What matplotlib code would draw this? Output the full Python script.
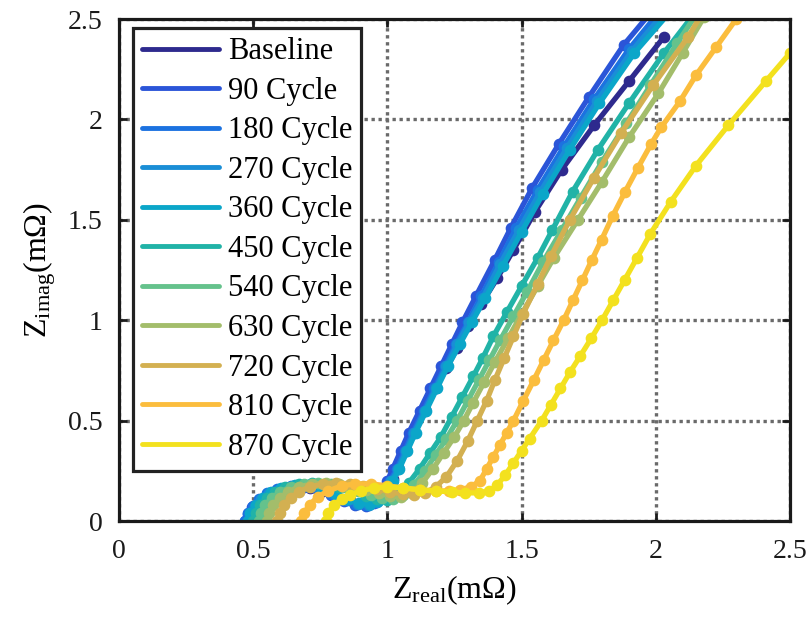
import matplotlib
matplotlib.use("Agg")
import matplotlib.pyplot as plt

plt.rcParams['font.family'] = ['Liberation Serif', 'DejaVu Serif']
plt.rcParams['mathtext.fontset'] = 'custom'
plt.rcParams['mathtext.rm'] = 'Liberation Serif'
plt.rcParams['mathtext.it'] = 'Liberation Serif:italic'

labels = ['Baseline', '90 Cycle', '180 Cycle', '270 Cycle', '360 Cycle', '450 Cycle',
          '540 Cycle', '630 Cycle', '720 Cycle', '810 Cycle', '870 Cycle']
colors = ['#2e2a8e', '#2b55d8', '#1c72e0', '#1a8ed6', '#0ba6c9', '#21b3a7',
          '#65c28c', '#a3bd6b', '#d3b051', '#fbbd3d', '#f3e11e']

x_bl = [0.49,0.50,0.515,0.54,0.57,0.61,0.66,0.71,0.76,0.81,0.86,0.90,0.94,0.97,1.00,1.02,1.04,1.07,1.10,1.14,1.18,1.22,1.26,1.30,1.35,1.41,1.47,1.55,1.65,1.77,1.90,2.03]
y_bl = [0.00,0.035,0.07,0.10,0.13,0.15,0.165,0.165,0.15,0.13,0.105,0.09,0.09,0.11,0.16,0.21,0.27,0.36,0.45,0.56,0.66,0.76,0.86,0.97,1.08,1.21,1.35,1.54,1.75,1.97,2.19,2.41]

x_90 = [0.47,0.48,0.495,0.52,0.55,0.59,0.64,0.69,0.74,0.79,0.84,0.88,0.92,0.95,0.98,1.00,1.02,1.05,1.08,1.12,1.16,1.20,1.24,1.28,1.33,1.40,1.46,1.54,1.64,1.75,1.88,1.98]
y_90 = [0.00,0.035,0.07,0.105,0.135,0.155,0.17,0.17,0.155,0.13,0.10,0.08,0.075,0.09,0.14,0.20,0.26,0.35,0.44,0.55,0.66,0.77,0.88,0.99,1.12,1.30,1.46,1.66,1.88,2.11,2.37,2.53]

x_180 = [0.47,0.48,0.50,0.52,0.55,0.59,0.64,0.69,0.74,0.79,0.84,0.88,0.92,0.955,0.985,1.01,1.035,1.065,1.095,1.135,1.175,1.215,1.255,1.30,1.35,1.415,1.48,1.56,1.66,1.77,1.90,2.01]
y_180 = [0.00,0.04,0.075,0.11,0.14,0.16,0.175,0.175,0.16,0.135,0.105,0.085,0.08,0.095,0.14,0.20,0.26,0.35,0.44,0.55,0.66,0.77,0.88,0.99,1.12,1.29,1.46,1.65,1.87,2.10,2.35,2.53]

x_270 = [0.48,0.49,0.505,0.53,0.56,0.60,0.65,0.70,0.75,0.80,0.85,0.89,0.93,0.96,0.99,1.015,1.04,1.07,1.10,1.14,1.18,1.22,1.26,1.305,1.355,1.42,1.49,1.57,1.67,1.78,1.91,2.03]
y_270 = [0.00,0.04,0.075,0.11,0.14,0.16,0.175,0.175,0.16,0.135,0.105,0.085,0.08,0.095,0.14,0.20,0.26,0.35,0.44,0.55,0.66,0.77,0.88,0.99,1.11,1.28,1.45,1.64,1.86,2.09,2.34,2.53]

x_360 = [0.48,0.49,0.51,0.535,0.565,0.605,0.655,0.705,0.755,0.805,0.855,0.895,0.935,0.965,0.995,1.02,1.045,1.075,1.105,1.145,1.185,1.225,1.27,1.315,1.365,1.43,1.50,1.58,1.68,1.79,1.92,2.05]
y_360 = [0.00,0.04,0.08,0.115,0.145,0.165,0.18,0.18,0.165,0.14,0.11,0.09,0.085,0.10,0.14,0.20,0.26,0.35,0.44,0.55,0.66,0.77,0.88,0.99,1.11,1.27,1.44,1.63,1.85,2.08,2.33,2.53]

x_450 = [0.50,0.51,0.525,0.55,0.58,0.62,0.67,0.72,0.77,0.82,0.87,0.92,0.96,1.00,1.04,1.08,1.12,1.16,1.20,1.24,1.28,1.32,1.355,1.395,1.445,1.50,1.56,1.615,1.69,1.785,1.90,2.03,2.14]
y_450 = [0.00,0.04,0.08,0.115,0.145,0.17,0.185,0.19,0.185,0.17,0.15,0.125,0.11,0.105,0.13,0.19,0.26,0.34,0.42,0.52,0.62,0.72,0.81,0.92,1.04,1.17,1.31,1.45,1.64,1.85,2.08,2.33,2.52]

x_540 = [0.52,0.53,0.545,0.57,0.60,0.64,0.69,0.74,0.79,0.84,0.89,0.94,0.98,1.02,1.06,1.10,1.14,1.18,1.22,1.26,1.30,1.34,1.38,1.42,1.47,1.52,1.58,1.65,1.72,1.80,1.89,1.98,2.08,2.15]
y_540 = [0.00,0.04,0.08,0.115,0.145,0.17,0.185,0.19,0.185,0.17,0.15,0.13,0.115,0.11,0.13,0.18,0.25,0.33,0.41,0.50,0.60,0.70,0.80,0.90,1.02,1.14,1.29,1.45,1.61,1.79,1.98,2.17,2.38,2.52]

x_630 = [0.55,0.56,0.575,0.60,0.63,0.67,0.72,0.77,0.82,0.87,0.92,0.97,1.01,1.05,1.09,1.13,1.17,1.21,1.25,1.285,1.32,1.36,1.40,1.45,1.50,1.56,1.62,1.71,1.80,1.90,2.01,2.10,2.18]
y_630 = [0.00,0.04,0.08,0.115,0.145,0.17,0.185,0.19,0.185,0.17,0.155,0.14,0.125,0.12,0.14,0.19,0.26,0.34,0.42,0.50,0.59,0.69,0.79,0.91,1.03,1.17,1.31,1.50,1.69,1.91,2.13,2.33,2.51]

x_720 = [0.59,0.60,0.615,0.64,0.67,0.71,0.76,0.81,0.86,0.91,0.96,1.01,1.06,1.10,1.14,1.18,1.22,1.26,1.30,1.335,1.37,1.40,1.435,1.47,1.505,1.56,1.61,1.68,1.77,1.87,1.99,2.12,2.17]
y_720 = [0.00,0.04,0.08,0.115,0.145,0.17,0.185,0.19,0.185,0.175,0.16,0.145,0.135,0.13,0.14,0.17,0.22,0.30,0.40,0.50,0.60,0.70,0.81,0.92,1.03,1.18,1.32,1.50,1.71,1.93,2.17,2.41,2.52]

x_810 = [0.68,0.69,0.71,0.74,0.78,0.83,0.88,0.94,1.00,1.06,1.12,1.18,1.23,1.27,1.31,1.345,1.37,1.395,1.42,1.445,1.47,1.507,1.545,1.582,1.619,1.657,1.692,1.727,1.762,1.798,1.84,1.886,1.934,1.984,2.02,2.09,2.15,2.225,2.30]
y_810 = [0.00,0.04,0.08,0.12,0.15,0.175,0.185,0.185,0.175,0.165,0.155,0.15,0.15,0.155,0.17,0.20,0.26,0.32,0.38,0.44,0.50,0.60,0.70,0.80,0.90,1.00,1.10,1.20,1.30,1.40,1.52,1.64,1.76,1.88,1.96,2.09,2.22,2.36,2.50]

x_870 = [0.77,0.78,0.80,0.83,0.86,0.90,0.95,1.00,1.06,1.12,1.18,1.24,1.29,1.34,1.38,1.41,1.44,1.47,1.50,1.53,1.575,1.61,1.645,1.68,1.718,1.76,1.80,1.842,1.884,1.93,1.98,2.056,2.15,2.27,2.41,2.50]
y_870 = [0.00,0.04,0.08,0.11,0.13,0.15,0.165,0.17,0.165,0.155,0.15,0.145,0.14,0.14,0.15,0.18,0.23,0.29,0.35,0.41,0.50,0.58,0.66,0.74,0.82,0.91,1.00,1.10,1.20,1.31,1.43,1.59,1.77,1.97,2.19,2.33]

xs = [x_bl, x_90, x_180, x_270, x_360, x_450, x_540, x_630, x_720, x_810, x_870]
ys = [y_bl, y_90, y_180, y_270, y_360, y_450, y_540, y_630, y_720, y_810, y_870]

tick_vals = [0, 0.5, 1, 1.5, 2, 2.5]
tick_labels = ['0', '0.5', '1', '1.5', '2', '2.5']

fig = plt.figure(figsize=(8.11, 6.26), dpi=100)
ax = fig.add_axes([0.1467, 0.1677, 0.8273, 0.8019])

for i, (x, y) in enumerate(zip(xs, ys)):
    ax.plot(x, y, '-', color=colors[i], lw=3.8, label=labels[i], zorder=3 + i * 0.1,
            solid_capstyle='round', solid_joinstyle='round')
    ax.plot(x, y, 'o', color=colors[i], ms=7.4, mec=colors[i], zorder=3 + i * 0.1 + 0.05)

ax.set_xlim(0, 2.5)
ax.set_ylim(0, 2.5)
ax.set_xticks(tick_vals)
ax.set_xticklabels(tick_labels)
ax.set_yticks(tick_vals)
ax.set_yticklabels(tick_labels)
ax.grid(True, color='#6a6a6a', linestyle=(0, (1, 1.1)), linewidth=2.4, zorder=0)
ax.set_axisbelow(True)
for s in ax.spines.values():
    s.set_linewidth(2.3)
    s.set_color('#1a1a1a')
    s.set_zorder(10)
ax.tick_params(direction='in', length=6, width=2, top=True, right=True,
               labelsize=20, colors='#1a1a1a')
ax.tick_params(axis='x', pad=13)
ax.tick_params(axis='y', pad=12)

ax.set_xlabel(r'Z$_{\mathrm{real}}$(m$\Omega$)', fontsize=23, labelpad=7)
ax.set_ylabel(r'Z$_{\mathrm{imag}}$(m$\Omega$)', fontsize=23, labelpad=7)

leg = ax.legend(loc='upper left', bbox_to_anchor=(0.021, 0.982), borderaxespad=0,
                fontsize=22, frameon=True, fancybox=False, framealpha=1,
                edgecolor='#222222', handlelength=2.5, handletextpad=0.3,
                labelspacing=0.345, borderpad=0.3)
leg.get_frame().set_linewidth(2.3)
leg.set_zorder(20)
for h in leg.get_lines():
    h.set_linewidth(3.5)

fig.savefig('out.png', dpi=100)
